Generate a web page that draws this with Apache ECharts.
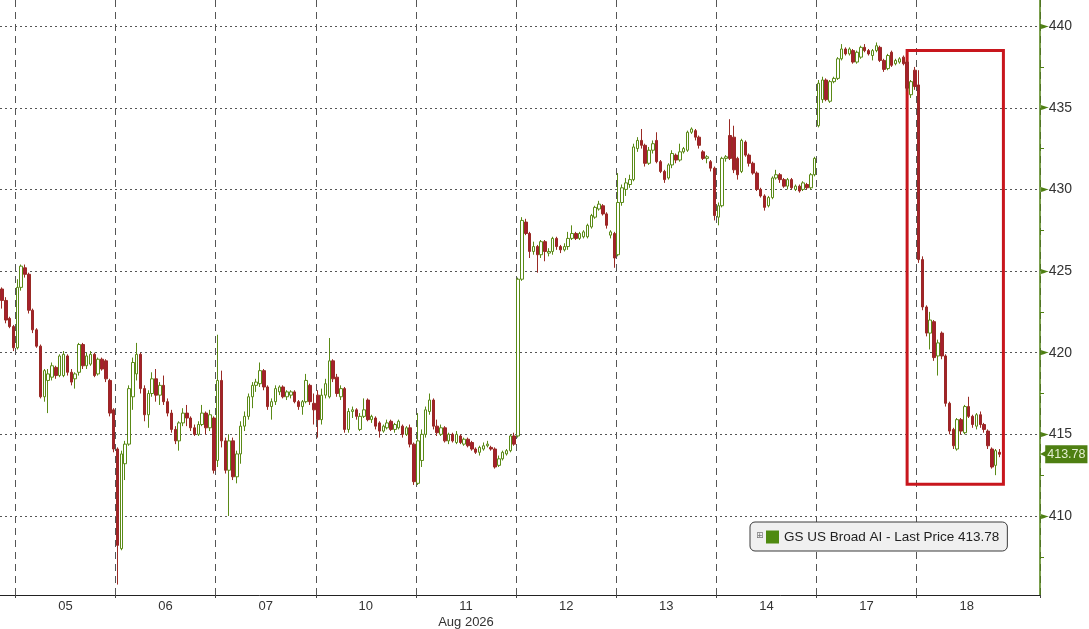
<!DOCTYPE html>
<html>
<head>
<meta charset="utf-8">
<script src="https://cdn.jsdelivr.net/npm/echarts@6/dist/echarts.min.js"></script>
<style>
html,body{margin:0;padding:0;background:#fff;}
#chart{width:1089px;height:629px;}
</style>
</head>
<body>
<div id="chart"></div>
<script>
// ---- data: each bar is [open, close, low, high] ----
const seriesName = 'GS US Broad AI - Last Price';
const lastPrice = 413.78;
const monthLabel = 'Aug 2026';
const dayLabels = ['04','05','06','07','10','11','12','13','14','17','18'];
const yTickValues = [410, 415, 420, 425, 430, 435, 440];

const d04 = [[423.9,423.2,422.7,424.0],[423.2,422.0,421.8,423.4],[422.1,421.6,421.5,422.2],[421.6,420.3,420.1,421.7]];
const d05 = [
[420.3,424.0,420.2,424.5],[424.0,425.3,423.8,425.4],[425.2,424.8,424.6,425.4],[424.8,422.6,422.4,424.9],
[422.6,421.4,421.2,422.7],[421.4,420.4,420.3,421.5],[420.4,417.3,417.2,420.5],[417.3,418.9,417.0,419.0],
[418.3,418.7,416.3,419.0],[418.5,419.2,418.3,419.4],[419.1,418.6,418.4,419.2],[418.6,419.8,418.5,419.9],
[418.6,419.9,418.5,420.1],[419.8,418.8,418.6,419.9],[418.8,418.2,418.0,419.0],[418.4,418.7,417.8,418.8],
[418.8,420.5,418.6,420.6],[420.5,419.2,419.0,420.6],[419.2,419.8,419.0,420.0],[419.3,419.9,419.2,420.1],
[419.9,418.6,418.5,420.0],[418.7,419.6,418.6,419.7],[419.6,419.0,418.9,419.7],[419.5,418.4,418.2,419.6],
[418.3,416.3,416.1,418.4],[416.5,414.1,413.9,416.6]];
const d06 = [
[414.1,408.2,405.8,414.2],[408.0,413.8,407.9,414.0],[413.2,414.4,412.2,414.6],[414.4,417.8,414.3,418.0],
[417.3,419.4,416.5,419.7],[418.7,419.9,418.3,420.6],[419.9,417.8,417.5,420.0],[417.8,416.2,415.8,418.0],
[416.2,417.5,415.4,417.7],[417.5,418.4,417.3,418.8],[418.4,417.4,417.0,419.0],[417.4,418.0,416.8,418.2],
[418.0,417.0,416.8,418.6],[417.0,416.3,416.1,417.2],[416.3,415.3,415.1,416.5],[415.3,414.6,414.4,415.5],
[414.6,415.7,414.0,415.8],[415.7,416.3,415.5,416.6],[416.3,416.0,415.5,416.8],[416.0,415.4,415.2,416.1],
[415.4,415.0,414.9,415.6],[415.0,415.6,414.9,415.8],[415.6,416.3,415.5,416.8],[416.3,415.4,415.0,416.4],
[415.4,416.2,415.2,416.5],[416.0,412.8,412.6,416.1]];
const d07 = [
[413.4,418.3,413.0,421.1],[418.3,414.6,414.2,418.9],[414.6,412.8,412.6,414.8],[412.8,414.6,410.0,415.0],
[414.6,412.4,412.2,414.8],[412.4,413.8,412.0,414.0],[413.8,415.5,413.2,415.8],[415.5,416.1,415.2,416.4],
[416.1,417.3,415.9,417.5],[417.3,418.0,416.6,418.2],[418.0,418.2,417.6,418.4],[418.1,418.9,417.9,419.4],
[418.9,417.9,417.7,419.0],[417.9,416.7,416.5,418.0],[416.7,417.0,415.9,417.2],[417.0,417.8,416.8,418.0],
[417.6,417.9,417.4,418.0],[417.9,417.3,417.2,418.0],[417.3,417.6,417.1,417.7],[417.4,417.6,417.2,417.7],
[417.6,417.0,416.9,417.7],[417.0,416.7,416.5,417.1],[416.7,417.0,416.2,417.1],[417.0,418.3,416.9,418.7],
[418.0,417.0,416.8,418.1],[416.9,416.5,415.6,417.5]];
const d10 = [
[417.4,415.9,414.8,417.7],[415.9,417.4,415.6,417.8],[417.4,418.1,417.2,418.4],[417.3,419.5,417.2,420.9],
[419.5,418.4,418.2,419.6],[418.5,417.5,417.3,418.7],[417.3,417.8,417.1,418.0],[417.8,415.3,415.1,417.9],
[415.3,416.4,415.1,416.6],[416.4,416.5,416.0,416.7],[416.5,416.1,415.9,416.6],[415.3,416.1,415.2,416.3],
[416.1,416.5,416.0,417.2],[417.1,415.9,415.8,417.2],[415.9,416.1,415.7,416.2],[416.0,415.5,415.3,416.1],
[415.7,415.2,414.8,415.8],[415.2,415.5,415.1,415.6],[415.4,415.7,415.3,415.9],[415.8,415.3,415.2,415.9],
[415.3,415.6,415.1,415.7],[415.4,415.8,415.3,415.9],[415.5,415.0,414.8,415.6],[415.0,415.4,414.9,415.5],
[415.4,414.4,414.2,415.6],[414.4,412.1,411.9,414.5]];
const d11 = [
[412.0,414.6,411.9,416.3],[413.4,415.0,413.0,415.3],[415.0,416.5,414.8,416.7],[416.4,417.1,416.2,417.5],
[417.1,415.5,415.3,417.2],[415.5,415.1,414.9,415.9],[415.0,415.4,414.9,415.6],[415.4,414.6,414.5,415.5],
[414.6,415.0,414.4,415.1],[415.0,414.6,414.5,415.1],[414.5,415.0,414.4,415.2],[414.9,414.5,414.4,415.0],
[414.4,414.7,414.3,414.8],[414.7,414.3,414.2,414.8],[414.5,414.1,414.0,414.6],[414.1,413.9,413.8,414.2],
[413.9,414.2,413.7,414.3],[414.1,414.3,414.0,414.5],[414.3,414.4,414.2,414.6],[414.2,414.1,414.0,414.3],
[414.1,413.0,412.9,414.2],[413.1,413.5,413.0,413.7],[413.5,413.9,413.4,414.0],[413.8,414.0,413.7,414.1],
[414.0,414.9,413.9,415.0],[414.9,414.4,414.3,415.1]];
const d12 = [
[414.9,424.5,414.8,424.6],[424.5,428.1,424.4,428.3],[428.0,427.3,427.2,428.2],[427.3,426.2,425.8,427.4],
[426.2,426.5,426.0,426.8],[426.5,426.0,424.9,426.6],[426.0,426.8,425.8,426.9],[426.8,426.2,425.6,426.9],
[426.1,426.2,425.9,426.4],[426.2,427.0,426.0,427.1],[427.0,426.5,426.3,427.1],[426.5,426.3,426.1,426.6],
[426.3,426.5,426.2,426.7],[426.5,427.0,426.3,427.4],[427.0,427.3,426.9,427.8],[427.3,427.0,426.9,427.4],
[427.0,427.3,426.9,427.4],[427.1,427.4,427.0,427.5],[427.1,427.8,427.0,427.9],[427.7,428.4,427.6,428.5],
[428.3,428.9,428.2,429.0],[428.8,429.1,428.7,429.3],[429.0,428.5,428.4,429.1],[428.5,427.8,427.6,428.6],
[427.2,427.4,427.0,427.5],[427.3,425.8,425.2,427.4]];
const d13 = [
[426.0,429.2,425.9,431.0],[429.2,430.1,429.0,430.3],[430.0,430.4,429.6,430.7],[430.3,430.6,430.1,430.9],
[430.6,432.6,430.5,432.8],[432.5,433.0,432.3,433.2],[433.0,432.7,432.5,433.7],[432.7,431.6,431.4,432.8],
[431.6,432.4,431.5,432.6],[432.4,432.8,432.2,433.0],[433.0,431.7,431.6,433.5],[431.7,431.1,431.0,431.8],
[431.1,430.6,430.4,431.2],[430.7,431.5,430.6,431.6],[431.5,432.2,431.3,432.4],[432.1,431.8,431.6,432.2],
[431.8,432.3,431.7,432.8],[432.3,432.5,432.2,432.6],[432.4,433.5,432.3,433.6],[433.5,433.7,433.4,433.8],
[433.6,433.2,433.0,433.7],[433.2,432.7,432.5,433.3],[432.3,431.9,431.8,432.4],[431.9,432.0,431.6,432.1],
[431.7,431.3,431.1,431.8],[431.3,428.4,428.1,431.4]];
const d14 = [
[428.3,429.0,427.8,429.2],[429.0,431.9,428.9,432.0],[431.9,432.0,431.7,432.1],[433.3,431.9,431.8,434.3],
[433.2,431.2,431.0,433.9],[431.9,430.9,430.6,432.0],[431.1,433.0,431.0,433.1],[432.9,432.1,432.0,433.0],
[432.1,431.6,431.4,432.2],[431.6,431.0,430.9,431.7],[431.0,430.0,429.9,431.1],[430.0,429.6,429.5,430.1],
[429.6,428.9,428.7,429.7],[429.0,429.5,428.9,429.6],[429.5,430.7,429.4,430.8],[430.7,430.9,430.6,431.2],
[430.9,430.6,430.4,431.0],[430.6,430.2,430.1,430.7],[430.2,430.6,430.0,430.7],[430.6,430.1,430.0,430.7],
[430.0,430.2,429.9,430.3],[430.2,429.9,429.8,430.3],[430.0,430.4,429.9,430.5],[430.3,430.1,430.0,430.4],
[430.1,430.9,430.0,431.0],[430.9,431.9,430.8,432.0]];
const d17 = [
[433.9,436.5,433.8,436.7],[435.5,436.7,435.3,436.9],[436.7,435.5,435.4,436.8],[435.4,436.6,435.3,436.7],
[436.6,436.8,436.5,436.9],[436.8,438.0,436.7,438.1],[438.0,438.6,437.9,438.9],[438.6,438.3,438.2,438.7],
[438.3,438.6,438.2,438.7],[438.5,437.8,437.7,438.6],[437.8,438.4,437.7,438.5],[438.1,438.7,438.0,438.8],
[438.7,438.5,438.4,438.9],[438.5,438.3,438.2,438.6],[438.2,438.5,437.9,438.6],[438.5,438.8,438.4,439.0],
[438.7,437.9,437.8,438.8],[437.9,437.35,437.2,438.0],[437.4,438.2,437.3,438.3],[438.4,437.6,437.5,438.5],
[437.7,437.9,437.6,438.0],[437.8,438.0,437.7,438.1],[438.1,437.7,437.6,438.2],[437.8,436.2,436.0,437.9],
[435.8,436.6,435.6,436.7],[437.3,436.3,436.1,437.5]];
const d18 = [
[436.4,425.7,425.5,437.3],[425.7,422.8,422.6,425.9],[422.8,421.2,421.0,422.9],[421.2,422.0,420.2,422.5],
[421.9,419.7,419.5,422.0],[419.8,420.6,418.6,420.8],[421.2,419.8,419.6,421.3],[419.8,416.9,416.7,419.9],
[416.9,415.2,415.0,417.0],[415.3,414.3,414.1,415.4],[414.1,415.9,414.0,416.0],[415.9,415.2,415.0,416.0],
[415.1,416.7,415.0,416.8],[416.7,416.1,416.0,417.3],[416.1,415.6,415.4,416.2],[415.5,416.2,415.3,416.3],
[416.2,415.6,415.4,416.4],[415.6,415.3,415.1,415.7],[415.2,414.3,414.1,415.3],[414.1,413.0,412.9,414.2],
[413.1,414.0,412.5,414.1],[413.9,413.78,413.6,414.1]];
const days = [d04, d05, d06, d07, d10, d11, d12, d13, d14, d17, d18];
// red annotation box: [startSlot, endSlot] and [top, bottom] prices
const boxSlots = [235, 260];
const boxPrices = [438.5, 411.95];

// ---- build ----
const barsPerDay = 26;
const firstDayBars = d04.length;
const totalSlots = 270;
const lastBoundary = firstDayBars + barsPerDay * (dayLabels.length - 2);
const candles = [];
days.forEach(d => d.forEach(b => candles.push(b)));
const cats = [];
for (let i = 0; i < totalSlots; i++) {
  let di = i < firstDayBars ? 0 : 1 + Math.floor((i - firstDayBars) / barsPerDay);
  cats.push(di < dayLabels.length ? dayLabels[di] : '');
}
const isBoundary = i => i >= firstDayBars && i <= lastBoundary && (i - firstDayBars) % barsPerDay === 0;
const isLabel = i => i >= firstDayBars && (i - firstDayBars) % barsPerDay === 13 && cats[i] !== '';

const green = '#4e7f12';
const FONT = 'Liberation Sans';

const chart = echarts.init(document.getElementById('chart'));
chart.setOption({
  backgroundColor: '#ffffff',
  animation: false,
  textStyle: {fontFamily: FONT},
  grid: {left: 0, right: 49, top: 0, bottom: 34, containLabel: false, outerBoundsMode: 'none'},
  legend: {
    left: 750, top: 522,
    backgroundColor: '#f0f0f0', borderColor: '#3a3a3a', borderWidth: 1, borderRadius: 5,
    padding: [8, 8, 7, 16],
    itemWidth: 13, itemHeight: 13, itemGap: 4,
    textStyle: {fontFamily: FONT, fontSize: 13.5, color: '#222'},
    data: [{name: seriesName + ' ' + lastPrice.toFixed(2), icon: 'rect', itemStyle: {color: '#4f8a10', borderWidth: 0}}]
  },
  graphic: [{type: 'text', left: 756, top: 531, z: 100, style: {text: '⊞', fontSize: 9, fill: '#777', fontFamily: 'DejaVu Sans'}}],
  xAxis: [{
    type: 'category', data: cats, boundaryGap: true,
    axisLine: {show: true, lineStyle: {color: '#222', width: 1}},
    axisTick: {show: true, interval: (i) => isBoundary(i), length: 3, lineStyle: {color: '#444'}},
    axisLabel: {
      interval: (i) => isLabel(i), margin: 3, color: '#333', fontSize: 13, fontFamily: FONT,
      lineHeight: 16, padding: [0, 4, 0, 0],
      formatter: (v) => v === '11' ? v + '\n' + monthLabel : v
    },
    splitLine: {show: true, interval: (i) => isBoundary(i), lineStyle: {color: '#555', type: [7, 5], width: 1}}
  }],
  yAxis: [{
    type: 'value', position: 'right', min: 405.16, max: 441.6, splitNumber: 7,
    axisLine: {show: true, lineStyle: {color: green, width: 1.5}},
    axisTick: {show: false},
    minorTick: {show: true, splitNumber: 2, length: 4, lineStyle: {color: green}},
    axisLabel: {
      show: true, margin: 1, color: '#333', fontSize: 14, fontFamily: FONT,
      formatter: (v) => yTickValues.indexOf(v) >= 0 ? '{t|►}{v|' + v + '}' : '',
      rich: {t: {color: green, fontSize: 10, fontFamily: 'DejaVu Sans'}, v: {color: '#333', fontSize: 14, fontFamily: FONT}}
    },
    splitLine: {show: true, showMinLine: false, showMaxLine: false, lineStyle: {color: '#555', type: [2, 3], width: 1}}
  }],
  series: [{
    name: seriesName + ' ' + lastPrice.toFixed(2),
    type: 'candlestick',
    data: candles,
    clip: false,
    barWidth: '78%',
    itemStyle: {color: '#ffffff', color0: '#a51f2d', borderColor: '#5a8a16', borderColor0: '#992a24', borderWidth: 1},
    markLine: {
      silent: true, symbol: 'none',
      lineStyle: {color: 'rgba(0,0,0,0)', width: 0},
      label: {
        show: true, position: 'end', distance: 0,
        formatter: '{p|◀}{v|' + lastPrice.toFixed(2) + '}',
        rich: {
          p: {color: green, fontSize: 12, fontFamily: 'DejaVu Sans', padding: [0, -4, 0, 0]},
          v: {color: '#e4efd2', backgroundColor: green, fontSize: 12.5, fontFamily: FONT, padding: [3, 2, 2, 2]}
        }
      },
      data: [{yAxis: lastPrice}]
    },
    markArea: {
      silent: true,
      itemStyle: {color: 'rgba(0,0,0,0)', borderColor: '#c8161d', borderWidth: 3},
      data: [[{xAxis: boxSlots[0], yAxis: boxPrices[0]}, {xAxis: boxSlots[1], yAxis: boxPrices[1]}]]
    }
  }]
});
</script>
</body>
</html>
